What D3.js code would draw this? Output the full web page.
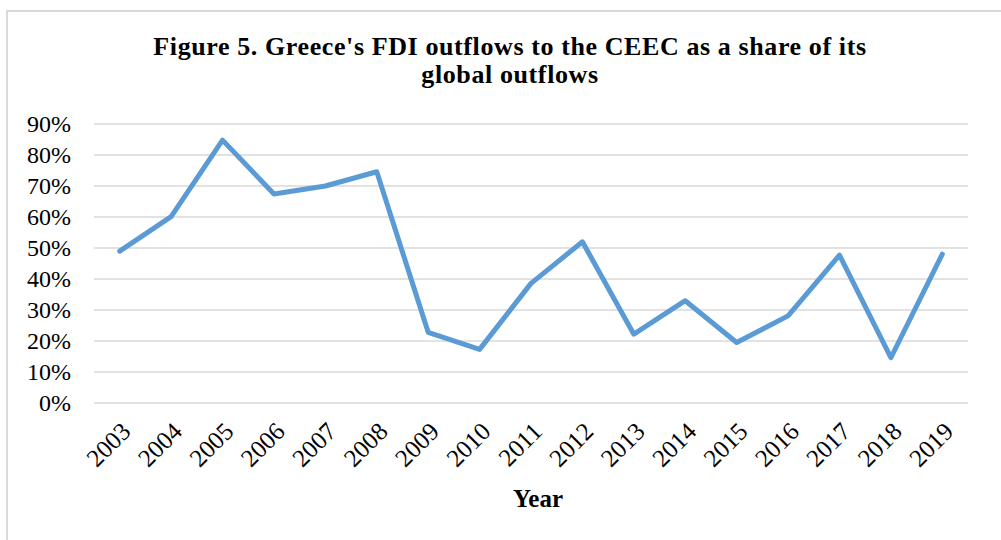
<!DOCTYPE html>
<html>
<head>
<meta charset="utf-8">
<script src="https://cdn.jsdelivr.net/npm/d3@7"></script>
<style>
html,body{margin:0;padding:0;background:#fff;}
svg{display:block;}
</style>
</head>
<body>
<svg id="chart" width="1001" height="540"></svg>
<script>
const years = ["2003","2004","2005","2006","2007","2008","2009","2010","2011","2012","2013","2014","2015","2016","2017","2018","2019"];
const shares = [0.49,0.601,0.848,0.674,0.70,0.746,0.228,0.173,0.386,0.52,0.222,0.33,0.195,0.281,0.477,0.146,0.48];
const yTicks = [0,0.1,0.2,0.3,0.4,0.5,0.6,0.7,0.8,0.9];
const titleLines = ["Figure 5. Greece's FDI outflows to the CEEC as a share of its","global outflows"];
const xTitle = "Year";

const svg = d3.select("#chart");
const font = "'Liberation Serif','DejaVu Serif',serif";

// outer frame
svg.append("rect").attr("x",7).attr("y",11).attr("width",1100).attr("height",600)
  .attr("fill","none").attr("stroke","#d9d9d9").attr("stroke-width",2);

const pLeft = 94, pRight = 968, pTop = 124, pBottom = 403;
const x = d3.scalePoint().domain(years).range([pLeft,pRight]).padding(0.5);
const y = d3.scaleLinear().domain([0,0.9]).range([pBottom,pTop]);

// gridlines
svg.append("g").selectAll("line").data(yTicks).join("line")
  .attr("x1",pLeft).attr("x2",pRight)
  .attr("y1",d=>y(d)).attr("y2",d=>y(d))
  .attr("stroke","#d9d9d9").attr("stroke-width",1.5);

// y axis labels
const yAxis = d3.axisLeft(y).tickValues(yTicks).tickFormat(d3.format(".0%")).tickSize(0).tickPadding(0);
const gy = svg.append("g").attr("transform",`translate(71,0)`).call(yAxis);
gy.select(".domain").remove();
gy.selectAll("text").attr("font-family",font).attr("font-size",24).attr("fill","#000").attr("dy","0.33em");

// x axis labels
const xAxis = d3.axisBottom(x).tickSize(0).tickPadding(0);
const gx = svg.append("g").attr("transform",`translate(0,${pBottom})`).call(xAxis);
gx.select(".domain").remove();
gx.selectAll("text").attr("font-family",font).attr("font-size",25).attr("fill","#000")
  .attr("text-anchor","end").attr("dy",null).attr("y",0)
  .attr("transform","translate(12,30) rotate(-45)");

// line
const line = d3.line().x((d,i)=>x(years[i])).y(d=>y(d));
svg.append("path").datum(shares).attr("d",line)
  .attr("fill","none").attr("stroke","#5b9bd5").attr("stroke-width",5)
  .attr("stroke-linejoin","round").attr("stroke-linecap","round");

// title
svg.append("text").attr("x",510).attr("y",55).attr("text-anchor","middle")
  .attr("font-family",font).attr("font-size",26).attr("font-weight","bold")
  .attr("letter-spacing","0.6px")
  .selectAll("tspan").data(titleLines).join("tspan")
  .attr("x",510).attr("dy",(d,i)=>i===0?0:28).text(d=>d);

// x title
svg.append("text").attr("x",538).attr("y",507).attr("text-anchor","middle")
  .attr("font-family",font).attr("font-size",25).attr("font-weight","bold").text(xTitle);
</script>
</body>
</html>
